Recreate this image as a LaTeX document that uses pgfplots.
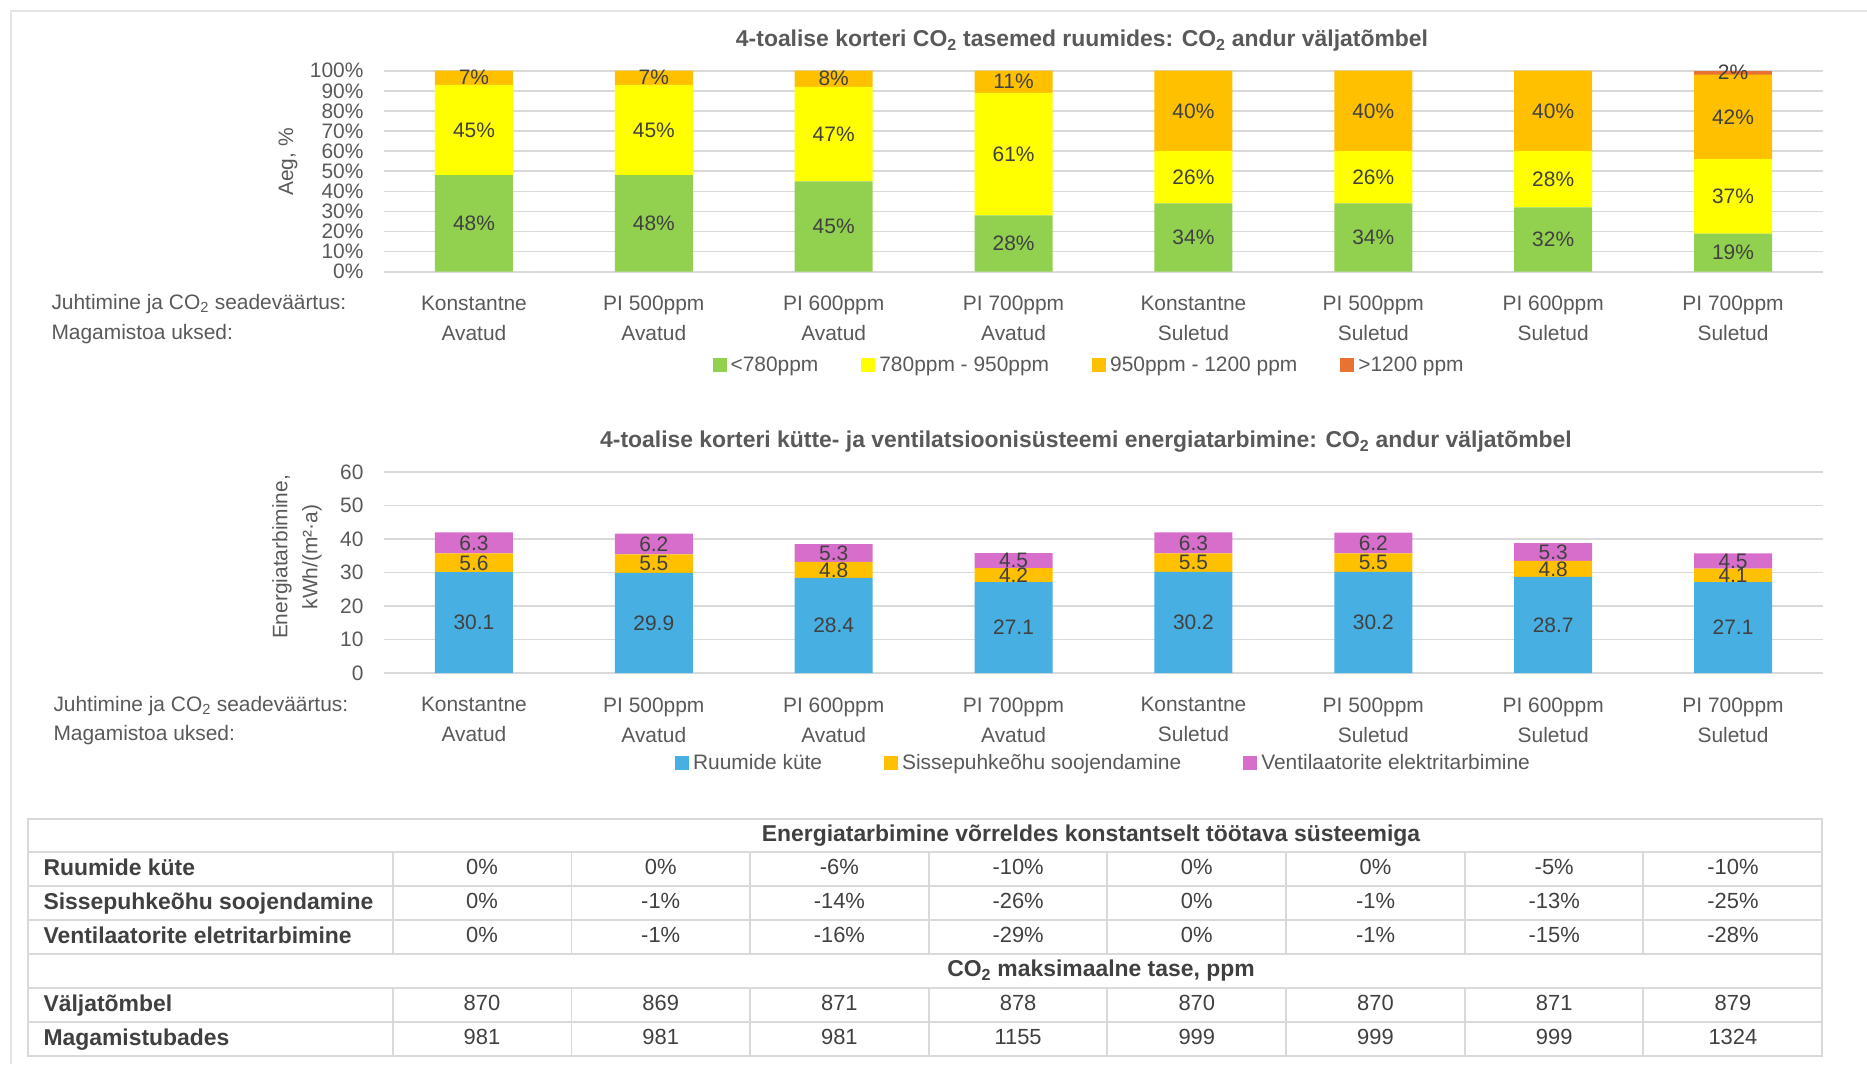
\documentclass[border=0pt]{standalone}
\usepackage{pgfplots}
\pgfplotsset{compat=1.18}
\usepackage{fontspec}
\setmainfont{Liberation Sans}

\definecolor{cGreen}{HTML}{92D050}
\definecolor{cYellow}{HTML}{FFFF00}
\definecolor{cOrange}{HTML}{FFC000}
\definecolor{cRed}{HTML}{E97132}
\definecolor{cBlue}{HTML}{47AFE1}
\definecolor{cPink}{HTML}{D86ECC}
\definecolor{gridc}{HTML}{D9D9D9}
\definecolor{txt}{HTML}{595959}
\definecolor{val}{HTML}{404040}
\definecolor{framec}{HTML}{E4E4E4}

\newcommand\fs{\fontsize{21}{30}\selectfont}
\newcommand\fb{\fontsize{23}{30}\selectfont\bfseries}

\pgfplotsset{
  stackbase/.style={
    scale only axis, width=1439bp, height=201bp,
    xmin=-0.5, xmax=7.5, ymin=0, enlargelimits=false,
    ybar stacked, bar width=78bp,
    axis line style={draw=none},
    major tick length=0pt,
    ymajorgrids, major grid style={gridc, line width=1.6bp},
    xtick={0,...,7},
    xticklabels={{Konstantne\\Avatud},{PI 500ppm\\Avatud},{PI 600ppm\\Avatud},{PI 700ppm\\Avatud},
                 {Konstantne\\Suletud},{PI 500ppm\\Suletud},{PI 600ppm\\Suletud},{PI 700ppm\\Suletud}},
    xticklabel style={align=center, font=\fs, text=txt, yshift=-21bp},
    yticklabel style={font=\fs, text=txt, xshift=-17bp},
    /pgf/number format/assume math mode=true,
    legend style={draw=none, fill=none, font=\fs, text=txt, legend columns=-1,
      /tikz/every odd column/.append style={column sep=2bp}},
    legend image code/.code={\fill[#1] (0bp,-7bp) rectangle (14bp,7bp);},
    % value labels sit in the middle of their segment
    every node near coord/.append style={anchor=center, font=\fs, text=val},
  },
  pct/.style={nodes near coords={\pgfmathfloatifflags{\pgfplotspointmeta}{0}{}{\pgfmathprintnumber{\pgfplotspointmeta}\%}}},
  dec/.style={nodes near coords={\pgfmathprintnumber[fixed, fixed zerofill, precision=1]{\pgfplotspointmeta}}},
}

\begin{document}
\begin{tikzpicture}[x=1bp, y=1bp]
\path[use as bounding box] (0,0) rectangle (1867,-1064);
\draw[framec, line width=1.5bp] (11,-1064) -- (11,-11) -- (1867,-11);

% CO2 levels: share of time per concentration band
\node[font=\fb, text=txt] at (1082,-41)
  {4-toalise korteri CO\textsubscript{2} tasemed ruumides: CO\textsubscript{2} andur väljatõmbel};
\node[rotate=90, font=\fs, text=txt] at (288,-162) {Aeg, \%};
\begin{axis}[stackbase, at={(384bp,-271.7bp)}, anchor=south west,
    ymax=100, ytick={0,10,...,100}, yticklabel={\pgfmathprintnumber{\tick}\%},
    legend style={at={(0.49,-0.464)}, anchor=center,
      /tikz/every even column/.append style={column sep=41bp}}]
  \addplot[fill=cGreen, draw=none, pct] coordinates {(0,48) (1,48) (2,45) (3,28) (4,34) (5,34) (6,32) (7,19)};
  \addplot[fill=cYellow, draw=none, pct] coordinates {(0,45) (1,45) (2,47) (3,61) (4,26) (5,26) (6,28) (7,37)};
  \addplot[fill=cOrange, draw=none, pct] coordinates {(0,7) (1,7) (2,8) (3,11) (4,40) (5,40) (6,40) (7,42)};
  \addplot[fill=cRed, draw=none, pct] coordinates {(0,0) (1,0) (2,0) (3,0) (4,0) (5,0) (6,0) (7,2)};
  \legend{<780ppm, 780ppm - 950ppm, 950ppm - 1200 ppm, >1200 ppm}
\end{axis}
\node[anchor=base west, font=\fs, text=txt] at (48,-309.5) {Juhtimine ja CO\textsubscript{2} seadeväärtus:};
\node[anchor=base west, font=\fs, text=txt] at (48,-339.5) {Magamistoa uksed:};

% Energy use of heating and ventilation
\node[font=\fb, text=txt] at (1086,-442)
  {4-toalise korteri kütte- ja ventilatsioonisüsteemi energiatarbimine: CO\textsubscript{2} andur väljatõmbel};
\node[rotate=90, font=\fs, text=txt, align=center] at (297,-557) {Energiatarbimine,\\kWh/(m²·a)};
\begin{axis}[stackbase, at={(384bp,-673bp)}, anchor=south west,
    ymax=60, ytick={0,10,...,60},
    legend style={at={(0.5,-0.447)}, anchor=center,
      /tikz/every even column/.append style={column sep=60bp}}]
  \addplot[fill=cBlue, draw=none, dec] coordinates {(0,30.1) (1,29.9) (2,28.4) (3,27.1) (4,30.2) (5,30.2) (6,28.7) (7,27.1)};
  \addplot[fill=cOrange, draw=none, dec] coordinates {(0,5.6) (1,5.5) (2,4.8) (3,4.2) (4,5.5) (5,5.5) (6,4.8) (7,4.1)};
  \addplot[fill=cPink, draw=none, dec] coordinates {(0,6.3) (1,6.2) (2,5.3) (3,4.5) (4,6.3) (5,6.2) (6,5.3) (7,4.5)};
  \legend{Ruumide küte, Sissepuhkeõhu soojendamine, Ventilaatorite elektritarbimine}
\end{axis}
\node[anchor=base west, font=\fs, text=txt] at (50,-711.5) {Juhtimine ja CO\textsubscript{2} seadeväärtus:};
\node[anchor=base west, font=\fs, text=txt] at (50,-740.5) {Magamistoa uksed:};

% Summary table
\begin{scope}[gridc, line width=1.6bp]
  \draw (28,-819) rectangle (1822,-1056);
  \foreach \yy in {852,886,920,954,988,1022} \draw (28,-\yy) -- (1822,-\yy);
  \foreach \xx in {393,571.5,750,929,1107,1286,1465,1643} {
    \draw (\xx,-852) -- (\xx,-954);
    \draw (\xx,-988) -- (\xx,-1056);
  }
\end{scope}
\node[font=\fb, text=val] at (1091,-835.5) {Energiatarbimine võrreldes konstantselt töötava süsteemiga};
\node[font=\fb, text=val] at (1101,-971) {CO\textsubscript{2} maksimaalne tase, ppm};
\foreach \lab/\yy in {Ruumide küte/869, Sissepuhkeõhu soojendamine/903, Ventilaatorite eletritarbimine/937, Väljatõmbel/1005, Magamistubades/1039}
  \node[anchor=west, font=\fb, text=val, text height=16bp, text depth=4bp] at (40,-\yy) {\lab};
\foreach \row/\yy in {{0\%,0\%,-6\%,-10\%,0\%,0\%,-5\%,-10\%}/869,
                     {0\%,-1\%,-14\%,-26\%,0\%,-1\%,-13\%,-25\%}/903,
                     {0\%,-1\%,-16\%,-29\%,0\%,-1\%,-15\%,-28\%}/937,
                     {870,869,871,878,870,870,871,879}/1005,
                     {981,981,981,1155,999,999,999,1324}/1039} {
  \foreach \v [count=\i from 0] in \row
    \node[font=\fontsize{22}{30}\selectfont, text=val, text height=15bp, text depth=4bp] at (482+178.7*\i,-\yy) {\v};
}
\end{tikzpicture}
\end{document}
